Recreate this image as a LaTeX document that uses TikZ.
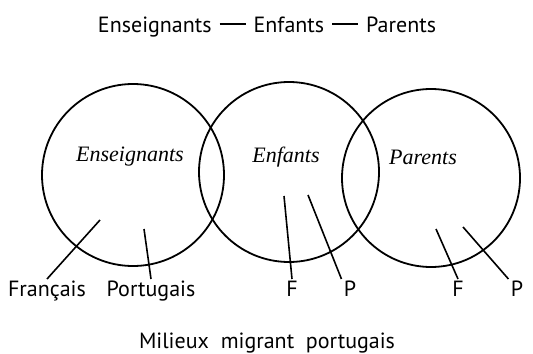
\documentclass[tikz,border=0pt]{standalone}
\usepackage{fontspec}
\setmainfont{Liberation Serif}
\setsansfont{PT Sans}
\usetikzlibrary{positioning}
\newcommand{\longdash}{\hspace{4pt}\rule[3.8pt]{13pt}{0.8pt}\hspace{4pt}}
\tikzset{
    semithick,
    group/.style={circle, draw, line width=0.9pt, inner sep=0pt},
    heading/.style={font=\sffamily\fontsize{11}{13}\selectfont},
    groupname/.style={font=\itshape\fontsize{11}{13}\selectfont},
    lang/.style={font=\sffamily\fontsize{11}{13}\selectfont, inner sep=1pt, anchor=north},
    pointer/.style={line width=0.8pt}
}

\begin{document}
\begin{tikzpicture}[x=0.5pt, y=-0.5pt]
\useasboundingbox (0,0) rectangle (533,353);

% ---- title ----
\node[heading] (T) at (267,27) {Enseignants\longdash Enfants\longdash Parents};

% ---- three circles ----
\node[group, minimum size=91pt] (CE) at (133,175) {};
\node[group, minimum size=90pt] (CF) at (289,172) {};
\node[group, minimum size=89pt] (CP) at (431,178) {};

% ---- names inside ----
\node[groupname] (NE) at (130,157) {Enseignants};
\node[groupname] (NF) at (286,157) {Enfants};
\node[groupname] (NP) at (423,157) {Parents};

% ---- language labels (below) ----
\node[lang] (Fr) at (47,279) {Français};
\node[lang] (Po) at (151,279) {Portugais};
\node[lang] (EF) at (292,279) {F};
\node[lang] (EP) at (350,279) {P};
\node[lang] (PF) at (458,279) {F};
\node[lang] (PP) at (517,279) {P};

% ---- pointer starts ----
\coordinate (aFr) at (100,220);
\coordinate (aPo) at (144,229);
\coordinate (aEF) at (284,196);
\coordinate (aEP) at (308,195);
\coordinate (aPF) at (436,229);
\coordinate (aPP) at (463,227);

% ---- pointers ----
\draw[pointer] (aFr) -- (Fr.north);
\draw[pointer] (aPo) -- (Po.north);
\draw[pointer] (aEF) -- (EF.north);
\draw[pointer] (aEP) -- (EP.north west);
\draw[pointer] (aPF) -- (PF.north);
\draw[pointer] (aPP) -- (PP.north west);

% ---- footer ----
\node[heading] (B) at (267,343) {Milieux\ \ migrant\ \ portugais};

\end{tikzpicture}
\end{document}
